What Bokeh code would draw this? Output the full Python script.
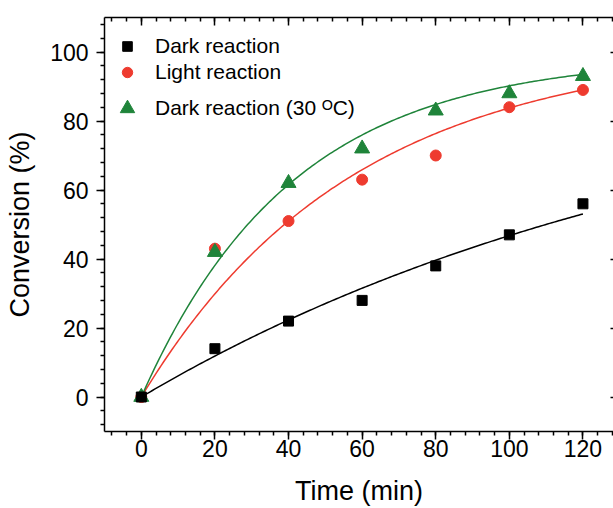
import numpy as np
from bokeh.plotting import figure
from bokeh.models import LinearAxis, SingleIntervalTicker, Range1d, Legend, LegendItem
from bokeh.embed import file_html
from bokeh.resources import INLINE

# ---- data ----
time_min = [0, 20, 40, 60, 80, 100, 120]
dark = [0, 14, 22, 28, 38, 47, 56]
light = [0, 43, 51, 63, 70, 84, 89]
dark30 = [0, 42, 62, 72, 83, 88, 93]
series_names = ["Dark reaction", "Light reaction", "Dark reaction (30 \u1d3cC)"]
# fitted curves y = A (1 - exp(-k t)), parameters
fit_amplitude = [99.4, 101.5, 98.8]
fit_rate = [0.00636, 0.01745, 0.0244]
x_label = "Time (min)"
y_label = "Conversion (%)"
x_tick_step = 20
y_tick_step = 20

BLACK = "#000000"
RED = "#EE3B2F"
GREEN = "#1F843A"
FONT = "Liberation Sans"

p = figure(width=613, height=508, output_backend="svg", toolbar_location=None,
           x_range=Range1d(-10, 128.3), y_range=Range1d(-10, 110),
           x_axis_location="below", y_axis_location="left")
p.min_border_left = 104
p.min_border_right = 0
p.min_border_top = 17
p.min_border_bottom = 77
p.outline_line_color = None
p.background_fill_color = "white"
p.border_fill_color = "white"
p.xgrid.visible = False
p.ygrid.visible = False

xt = SingleIntervalTicker(interval=x_tick_step, num_minor_ticks=5)
yt = SingleIntervalTicker(interval=y_tick_step, num_minor_ticks=5)

for ax, tk in ((p.xaxis[0], xt), (p.yaxis[0], yt)):
    ax.ticker = tk
    ax.axis_line_width = 1.5
    ax.major_tick_line_width = 1.5
    ax.minor_tick_line_width = 1.5
    ax.major_tick_out = 8
    ax.major_tick_in = 0
    ax.minor_tick_out = 4
    ax.minor_tick_in = 0
    ax.major_label_text_font = FONT
    ax.major_label_text_font_size = "23px"
    ax.major_label_text_color = "black"
    ax.axis_label_text_font = FONT
    ax.axis_label_text_font_size = "27px"
    ax.axis_label_text_font_style = "normal"
    ax.axis_label_text_color = "black"

p.xaxis[0].axis_label = x_label
p.xaxis[0].major_label_standoff = 0
p.xaxis[0].axis_label_standoff = 16
p.yaxis[0].axis_label = y_label
p.yaxis[0].major_label_standoff = 8
p.yaxis[0].axis_label_standoff = 12

top = LinearAxis(ticker=SingleIntervalTicker(interval=x_tick_step, num_minor_ticks=5),
                 axis_line_width=1.5, major_tick_line_width=1.5, minor_tick_line_width=1.5,
                 major_tick_in=8, major_tick_out=0, minor_tick_in=4, minor_tick_out=0,
                 major_label_text_color=None, major_label_text_font_size="0px",
                 major_label_standoff=0)
p.add_layout(top, "above")
right = LinearAxis(ticker=SingleIntervalTicker(interval=y_tick_step, num_minor_ticks=0),
                   axis_line_color=None, major_tick_line_width=1.5,
                   major_tick_in=3, major_tick_out=0, minor_tick_in=0, minor_tick_out=0,
                   major_label_text_color=None, major_label_text_font_size="0px",
                   major_label_standoff=0)
p.add_layout(right, "right")

# fitted curves
t_fit = np.linspace(time_min[0], time_min[-1], 200)
for A, k, col in zip(fit_amplitude, fit_rate, (BLACK, RED, GREEN)):
    p.line(t_fit, A * (1 - np.exp(-k * t_fit)), line_color=col, line_width=1.5)

r_light = p.scatter(time_min, light, marker="circle", size=11, fill_color=RED, line_color=RED)
r_green = p.scatter(time_min, dark30, marker="triangle", size=15, fill_color=GREEN, line_color=GREEN)
r_dark = p.scatter(time_min, dark, marker="square", size=10, fill_color=BLACK, line_color=BLACK)


def make_legend(label, renderer, glyph_w, glyph_h, loc, standoff):
    return Legend(items=[LegendItem(label=label, renderers=[renderer])],
                  location=loc, orientation="vertical",
                  border_line_color=None, background_fill_alpha=0,
                  padding=0, margin=0, spacing=0,
                  glyph_width=glyph_w, glyph_height=glyph_h, label_height=glyph_h,
                  label_standoff=standoff, label_text_font=FONT,
                  label_text_font_size="21px", label_text_color="black")


p.add_layout(make_legend(series_names[0], r_dark, 24, 26, (11, 372), 16))
p.add_layout(make_legend(series_names[1], r_light, 26, 26, (10, 346), 15))
p.add_layout(make_legend(series_names[2], r_green, 36, 36, (5, 305), 10))

open("out.html", "w").write(file_html(p, INLINE))
